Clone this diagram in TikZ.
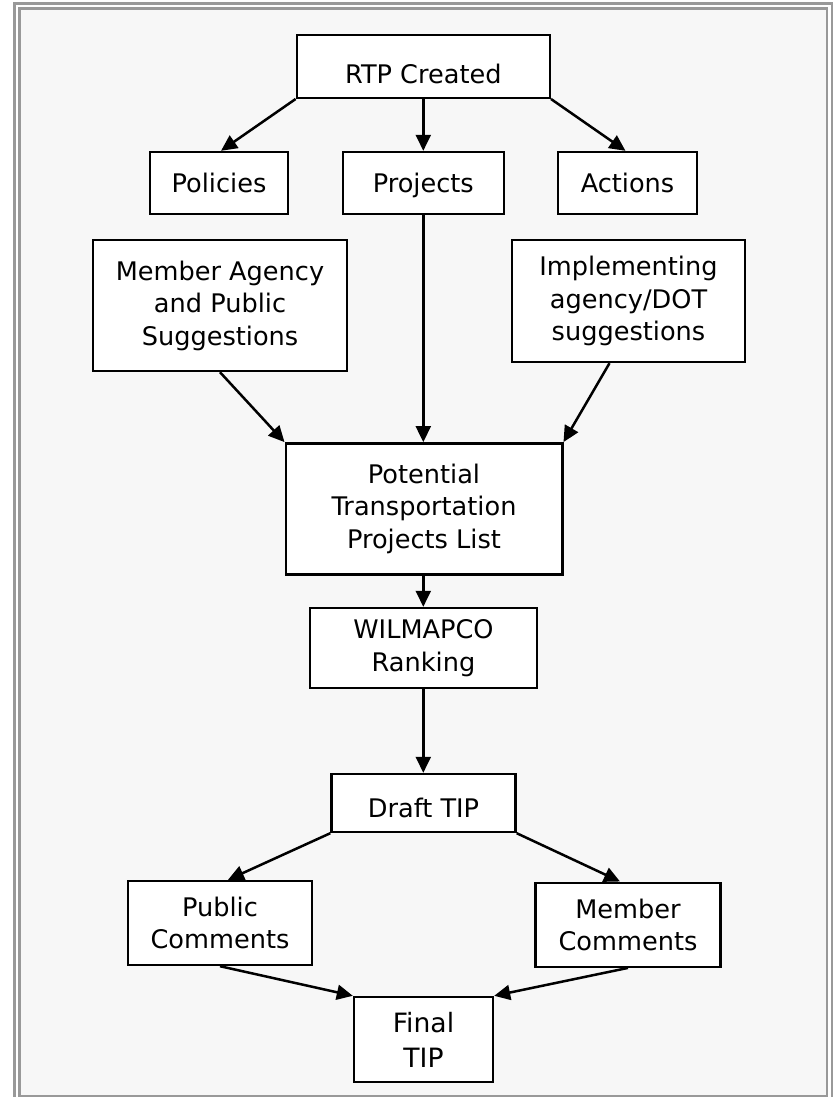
\documentclass[tikz,border=0pt]{standalone}
\usepackage{fontspec}
\setmainfont{DejaVu Sans}
\usetikzlibrary{arrows.meta}
\definecolor{framegray}{RGB}{153,153,153}
\definecolor{bggray}{RGB}{247,247,247}
\begin{document}
\begin{tikzpicture}[x=1pt,y=-1pt,
  box/.style={draw, line width=2.4pt, fill=white, align=center,
    font=\fontsize{25.6}{32.5}\selectfont, inner sep=0pt},
  one/.style={text height=18.7pt, text depth=0pt},
  arr/.style={line width=2.5pt, -{Triangle[length=16pt,width=15pt]}}]
\useasboundingbox (0,0) rectangle (839,1097);
\begin{scope}
\clip (0,0) rectangle (839,1097);
\fill[white] (0,0) rectangle (839,1097);
\draw[framegray, line width=2.6pt] (14.5,3.5) rectangle (832,1130);
\filldraw[fill=bggray, draw=framegray, line width=2.6pt] (19.5,8.5) rectangle (827,1096);
\end{scope}

\node[box, minimum width=253pt, minimum height=63pt, text height=35pt, text depth=0pt] (rtp) at (423.3,66.3) {RTP Created};
\node[box, one, minimum width=138pt, minimum height=62pt] (pol) at (219,183) {Policies};
\node[box, one, minimum width=161pt, minimum height=62pt] (proj) at (423.3,183) {Projects};
\node[box, one, minimum width=139pt, minimum height=62pt] (act) at (627.5,183) {Actions};
\node[box, minimum width=254pt, minimum height=131pt] (mem) at (220,305.5) {Member Agency\\and Public\\Suggestions};
\node[box, minimum width=233pt, minimum height=122pt] (impl) at (628.5,301) {Implementing\\agency/DOT\\suggestions};
\node[box, minimum width=276.6pt, minimum height=131pt] (pot) at (424,508.8) {Potential\\Transportation\\Projects List};
\node[box, minimum width=227pt, minimum height=80pt] (wil) at (423.5,648) {WILMAPCO\\Ranking};
\node[box, minimum width=184pt, minimum height=58pt, text height=29pt, text depth=0pt] (draft) at (423.5,803) {Draft TIP};
\node[box, minimum width=184pt, minimum height=84pt] (pub) at (220,923) {Public\\Comments};
\node[box, minimum width=185pt, minimum height=84pt] (memc) at (628,924.7) {Member\\Comments};
\node[box, minimum width=139pt, minimum height=85pt, font=\fontsize{26.6}{35}\selectfont] (fin) at (423.5,1039.5) {Final\\TIP};

\draw[arr] (rtp.south west) -- ([xshift=2pt]pol.north);
\draw[arr] (rtp.south) -- (proj.north);
\draw[arr] (rtp.south east) -- ([xshift=-2pt]act.north);
\draw[arr] (proj.south) -- (pot.north -| proj.south);
\draw[arr] (mem.south) -- (pot.north west);
\draw[arr] ([xshift=-19pt]impl.south) -- (pot.north east);
\draw[arr] (pot.south -| proj.south) -- (wil.north -| proj.south);
\draw[arr] (wil.south -| proj.south) -- (draft.north -| proj.south);
\draw[arr] (draft.south west) -- ([xshift=8pt]pub.north);
\draw[arr] (draft.south east) -- ([xshift=-8pt]memc.north);
\draw[arr] (pub.south) -- (fin.north west);
\draw[arr] (memc.south) -- (fin.north east);
\end{tikzpicture}
\end{document}
